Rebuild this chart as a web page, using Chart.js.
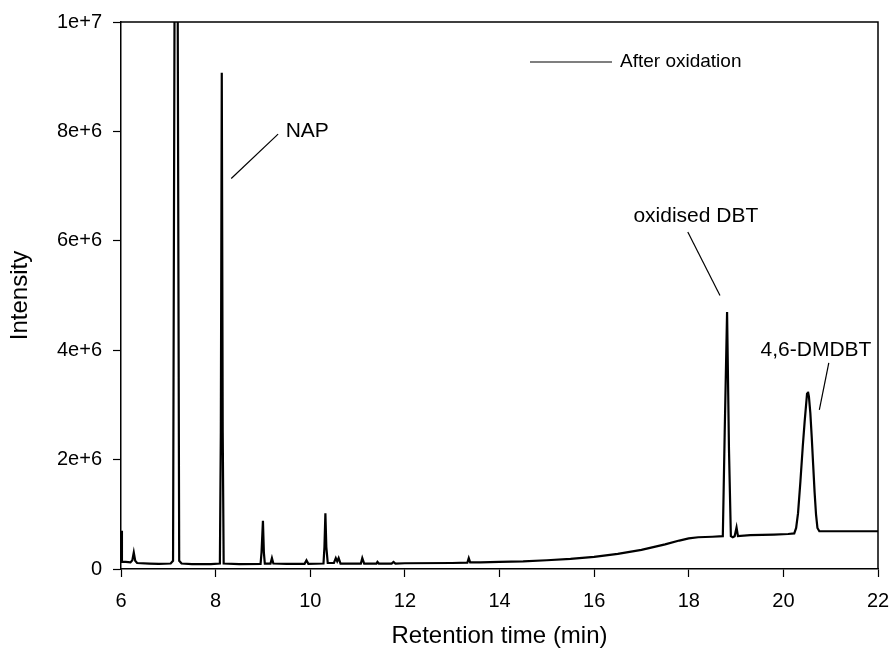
<!DOCTYPE html>
<html>
<head>
<meta charset="utf-8">
<script src="https://cdn.jsdelivr.net/npm/chart.js@4/dist/chart.umd.min.js"></script>
<style>
  html, body { margin: 0; padding: 0; background: #fff; }
  #wrap { width: 893px; height: 660px; }
</style>
</head>
<body>
<div id="wrap"><canvas id="myChart" width="893" height="660"></canvas></div>
<script>
// retention time (min) and detector intensity
var times = [6.00, 6.02, 6.10, 6.20, 6.24, 6.27, 6.30, 6.34, 6.60, 6.80, 7.05, 7.10, 7.14, 7.19, 7.23, 7.28,
    7.50, 7.90, 8.09, 8.11, 8.13, 8.15, 8.17, 8.50, 8.95, 8.97, 9.00, 9.02, 9.04, 9.16, 9.19, 9.22,
    9.50, 9.88, 9.92, 9.96, 10.28, 10.30, 10.32, 10.34, 10.37, 10.50, 10.54, 10.57, 10.60, 10.64,
    11.00, 11.07, 11.10, 11.14, 11.40, 11.42, 11.45, 11.72, 11.76, 11.80, 12.00, 13.00, 13.32,
    13.35, 13.38, 13.60, 14.00, 14.50, 15.00, 15.50, 16.00, 16.50, 17.00, 17.50, 17.80, 18.00,
    18.20, 18.50, 18.72, 18.76, 18.81, 18.85, 18.89, 18.93, 18.97, 19.01, 19.04, 19.30,
    19.80, 20.10, 20.23, 20.27, 20.31, 20.36, 20.41, 20.45, 20.48, 20.50, 20.52, 20.54, 20.57,
    20.60, 20.63, 20.66, 20.69, 20.72, 20.76, 21.50, 22.00];
var intensity = [7.0e5, 1.3e5, 1.3e5, 1.2e5, 1.6e5, 3.0e5, 1.5e5, 1.1e5, 1.0e5, 0.95e5, 1.0e5, 1.5e5, 1.3e7, 1.3e7, 1.5e5, 1.0e5,
    0.9e5, 0.9e5, 1.0e5, 2.5e6, 9.07e6, 2.5e6, 1.0e5, 0.9e5, 0.95e5, 3.0e5, 8.8e5, 3.0e5, 1.0e5, 1.0e5, 2.0e5, 1.0e5,
    0.95e5, 0.95e5, 1.6e5, 0.95e5, 1.0e5, 4.0e5, 1.02e6, 4.0e5, 1.1e5, 1.1e5, 2.0e5, 1.4e5, 2.0e5, 1.0e5,
    1.0e5, 1.0e5, 2.0e5, 1.0e5, 1.0e5, 1.3e5, 1.0e5, 1.0e5, 1.3e5, 1.0e5, 1.05e5, 1.1e5, 1.15e5,
    2.0e5, 1.2e5, 1.2e5, 1.3e5, 1.4e5, 1.6e5, 1.85e5, 2.2e5, 2.75e5, 3.5e5, 4.5e5, 5.2e5, 5.6e5,
    5.8e5, 5.9e5, 6.0e5, 2.5e6, 4.7e6, 2.2e6, 6.0e5, 5.8e5, 6.0e5, 7.6e5, 6.0e5, 6.2e5,
    6.3e5, 6.4e5, 6.5e5, 7.5e5, 1.02e6, 1.6e6, 2.24e6, 2.7e6, 3.0e6, 3.2e6, 3.24e6, 3.15e6, 2.85e6,
    2.4e6, 1.9e6, 1.4e6, 1.0e6, 7.5e5, 6.9e5, 6.9e5, 6.9e5];

var xTicks = [6, 8, 10, 12, 14, 16, 18, 20, 22];
var yTicks = [0, 2e6, 4e6, 6e6, 8e6, 1e7];
var seriesName = 'After oxidation';

// peak labels: text, text position, leader line start and end (data units)
var peakLabels = ['NAP', 'oxidised DBT', '4,6-DMDBT'];
var labelAt = [[9.48, 8.0e6], [18.15, 6.45e6], [20.69, 4.0e6]];
var labelAlign = ['left', 'center', 'center'];
var leaderFrom = [[9.32, 7.95e6], [17.98, 6.16e6], [20.96, 3.77e6]];
var leaderTo = [[8.33, 7.14e6], [18.66, 5.0e6], [20.76, 2.91e6]];

var points = times.map(function(t, i) { return {x: t, y: intensity[i]}; });

var FONT = '"Liberation Sans", Arial, sans-serif';

// box round the plot, the legend and the peak labels
var extras = {
    id: 'extras',
    afterDraw: function(chart) {
        var ctx = chart.ctx;
        var a = chart.chartArea;
        var xs = chart.scales.x, ys = chart.scales.y;
        ctx.save();
        ctx.strokeStyle = '#000';
        ctx.lineWidth = 1.5;
        ctx.beginPath();
        ctx.moveTo(a.left, a.top);
        ctx.lineTo(a.right, a.top);
        ctx.lineTo(a.right, a.bottom);
        ctx.stroke();

        // legend
        ctx.lineWidth = 1.2;
        ctx.beginPath();
        ctx.moveTo(530, a.top + 40);
        ctx.lineTo(612, a.top + 40);
        ctx.stroke();
        ctx.fillStyle = '#000';
        ctx.font = '19px ' + FONT;
        ctx.textAlign = 'left';
        ctx.textBaseline = 'middle';
        ctx.fillText(seriesName, 620, a.top + 40);

        // peak labels
        ctx.font = '21px ' + FONT;
        ctx.lineWidth = 1.2;
        for (var i = 0; i < peakLabels.length; i++) {
            ctx.textAlign = labelAlign[i];
            ctx.fillText(peakLabels[i], xs.getPixelForValue(labelAt[i][0]), ys.getPixelForValue(labelAt[i][1]));
            ctx.beginPath();
            ctx.moveTo(xs.getPixelForValue(leaderFrom[i][0]), ys.getPixelForValue(leaderFrom[i][1]));
            ctx.lineTo(xs.getPixelForValue(leaderTo[i][0]), ys.getPixelForValue(leaderTo[i][1]));
            ctx.stroke();
        }
        ctx.restore();
    }
};

document.addEventListener("DOMContentLoaded", function() {
    var ctx = document.getElementById('myChart').getContext('2d');

    var myChart = new Chart(ctx, {
        type: 'scatter',
        data: {
            datasets: [{
                label: seriesName,
                data: points,
                showLine: true,
                borderColor: '#000',
                borderWidth: 2.2,
                pointRadius: 0,
                tension: 0,
                fill: false
            }]
        },
        options: {
            responsive: false,
            animation: false,
            layout: { padding: { left: 0, right: 15, top: 22, bottom: 0 } },
            plugins: {
                legend: { display: false },
                tooltip: { enabled: false }
            },
            scales: {
                x: {
                    type: 'linear',
                    min: 6,
                    max: 22,
                    afterFit: function(scale) {
                        scale.height = 91;
                        scale.paddingLeft = 0;
                        scale.paddingRight = 0;
                    },
                    afterBuildTicks: function(scale) {
                        scale.ticks = xTicks.map(function(v) { return {value: v}; });
                    },
                    ticks: {
                        color: '#000',
                        padding: 12,
                        maxRotation: 0,
                        font: { family: FONT, size: 20 }
                    },
                    grid: { drawOnChartArea: false, drawTicks: true, tickLength: 8, tickColor: '#000', tickWidth: 1.2 },
                    border: { color: '#000', width: 1.5 },
                    title: {
                        display: true,
                        text: 'Retention time (min)',
                        color: '#000',
                        font: { family: FONT, size: 24 },
                        padding: { top: 0, bottom: 9 }
                    }
                },
                y: {
                    type: 'linear',
                    min: 0,
                    max: 1e7,
                    afterFit: function(scale) {
                        scale.width = 121;
                        scale.paddingTop = 0;
                        scale.paddingBottom = 0;
                    },
                    afterBuildTicks: function(scale) {
                        scale.ticks = yTicks.map(function(v) { return {value: v}; });
                    },
                    ticks: {
                        color: '#000',
                        padding: 11,
                        font: { family: FONT, size: 20 },
                        callback: function(value) {
                            return value === 0 ? '0' : Number(value).toExponential(0);
                        }
                    },
                    grid: { drawOnChartArea: false, drawTicks: true, tickLength: 8, tickColor: '#000', tickWidth: 1.2 },
                    border: { color: '#000', width: 1.5 },
                    title: {
                        display: true,
                        text: 'Intensity',
                        color: '#000',
                        font: { family: FONT, size: 24 },
                        padding: { top: 6, bottom: 0 }
                    }
                }
            }
        },
        plugins: [extras]
    });
});
</script>
</body>
</html>
